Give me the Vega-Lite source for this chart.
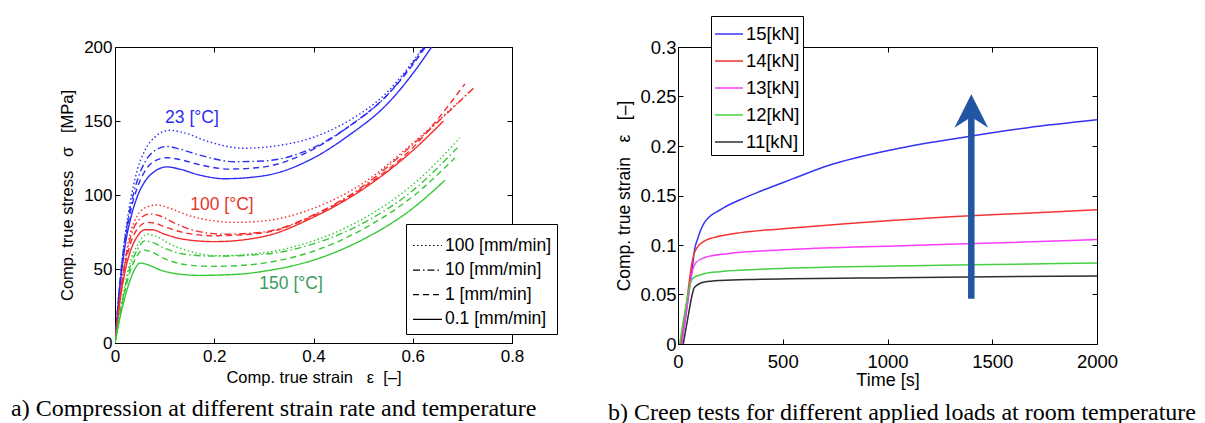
{
  "$schema": "https://vega.github.io/schema/vega-lite/v6.json",
  "padding": {"left": 10, "top": 15, "right": 5, "bottom": 0},
  "bounds": "flush",
  "spacing": 166,
  "background": "white",
  "resolve": {"scale": {"color": "independent", "strokeDash": "independent", "x": "independent", "y": "independent"}, "legend": {"color": "independent", "strokeDash": "independent"}},
  "config": {
    "font": "Liberation Sans",
    "view": {"stroke": "black", "strokeWidth": 1},
    "axis": {"domainColor": "black", "tickColor": "black", "labelColor": "black", "titleColor": "black", "grid": false, "labelFont": "Liberation Sans", "titleFont": "Liberation Sans", "titleFontWeight": "normal", "tickSize": -5, "domainWidth": 1, "tickWidth": 1, "labelFlush": false},
    "legend": {"labelFont": "Liberation Sans", "labelColor": "black"}
  },
  "datasets": {
    "comp": [
      {"T":"23","r":"0.1","e":0,"s":0},{"T":"23","r":"0.1","e":0.01,"s":38},{"T":"23","r":"0.1","e":0.02,"s":65},{"T":"23","r":"0.1","e":0.03,"s":82},{"T":"23","r":"0.1","e":0.045,"s":99},{"T":"23","r":"0.1","e":0.06,"s":109},{"T":"23","r":"0.1","e":0.08,"s":116},{"T":"23","r":"0.1","e":0.105,"s":119},{"T":"23","r":"0.1","e":0.13,"s":117.5},{"T":"23","r":"0.1","e":0.17,"s":113.5},{"T":"23","r":"0.1","e":0.22,"s":111},{"T":"23","r":"0.1","e":0.3,"s":113},{"T":"23","r":"0.1","e":0.4,"s":125},{"T":"23","r":"0.1","e":0.47,"s":140},{"T":"23","r":"0.1","e":0.55,"s":162},{"T":"23","r":"0.1","e":0.6,"s":182},{"T":"23","r":"0.1","e":0.65,"s":206},
      {"T":"23","r":"1","e":0,"s":0},{"T":"23","r":"1","e":0.01,"s":40},{"T":"23","r":"1","e":0.02,"s":68},{"T":"23","r":"1","e":0.03,"s":87},{"T":"23","r":"1","e":0.045,"s":105},{"T":"23","r":"1","e":0.06,"s":116},{"T":"23","r":"1","e":0.08,"s":123},{"T":"23","r":"1","e":0.105,"s":125.2},{"T":"23","r":"1","e":0.13,"s":124},{"T":"23","r":"1","e":0.17,"s":120.5},{"T":"23","r":"1","e":0.23,"s":117.5},{"T":"23","r":"1","e":0.3,"s":119},{"T":"23","r":"1","e":0.4,"s":131},{"T":"23","r":"1","e":0.47,"s":146},{"T":"23","r":"1","e":0.55,"s":168},{"T":"23","r":"1","e":0.6,"s":188},{"T":"23","r":"1","e":0.64,"s":207},
      {"T":"23","r":"10","e":0,"s":0},{"T":"23","r":"10","e":0.01,"s":41},{"T":"23","r":"10","e":0.02,"s":70},{"T":"23","r":"10","e":0.03,"s":90},{"T":"23","r":"10","e":0.045,"s":110},{"T":"23","r":"10","e":0.06,"s":122},{"T":"23","r":"10","e":0.08,"s":130},{"T":"23","r":"10","e":0.105,"s":132.8},{"T":"23","r":"10","e":0.13,"s":131},{"T":"23","r":"10","e":0.17,"s":127},{"T":"23","r":"10","e":0.24,"s":122.5},{"T":"23","r":"10","e":0.3,"s":123},{"T":"23","r":"10","e":0.4,"s":132},{"T":"23","r":"10","e":0.47,"s":146},{"T":"23","r":"10","e":0.55,"s":168},{"T":"23","r":"10","e":0.6,"s":189},{"T":"23","r":"10","e":0.635,"s":206},
      {"T":"23","r":"100","e":0,"s":0},{"T":"23","r":"100","e":0.01,"s":42},{"T":"23","r":"100","e":0.02,"s":72},{"T":"23","r":"100","e":0.03,"s":94},{"T":"23","r":"100","e":0.045,"s":117},{"T":"23","r":"100","e":0.06,"s":130},{"T":"23","r":"100","e":0.08,"s":139},{"T":"23","r":"100","e":0.11,"s":143.7},{"T":"23","r":"100","e":0.14,"s":142},{"T":"23","r":"100","e":0.18,"s":137},{"T":"23","r":"100","e":0.26,"s":131.6},{"T":"23","r":"100","e":0.32,"s":133},{"T":"23","r":"100","e":0.4,"s":139},{"T":"23","r":"100","e":0.47,"s":150},{"T":"23","r":"100","e":0.55,"s":170},{"T":"23","r":"100","e":0.6,"s":190},{"T":"23","r":"100","e":0.635,"s":207},
      {"T":"100","r":"0.1","e":0,"s":0},{"T":"100","r":"0.1","e":0.01,"s":28},{"T":"100","r":"0.1","e":0.02,"s":48},{"T":"100","r":"0.1","e":0.03,"s":61},{"T":"100","r":"0.1","e":0.045,"s":72},{"T":"100","r":"0.1","e":0.06,"s":76.5},{"T":"100","r":"0.1","e":0.075,"s":76.5},{"T":"100","r":"0.1","e":0.1,"s":73.5},{"T":"100","r":"0.1","e":0.14,"s":70},{"T":"100","r":"0.1","e":0.2,"s":68.5},{"T":"100","r":"0.1","e":0.3,"s":72},{"T":"100","r":"0.1","e":0.4,"s":85},{"T":"100","r":"0.1","e":0.5,"s":104},{"T":"100","r":"0.1","e":0.6,"s":130},{"T":"100","r":"0.1","e":0.662,"s":150},
      {"T":"100","r":"1","e":0,"s":0},{"T":"100","r":"1","e":0.01,"s":30},{"T":"100","r":"1","e":0.02,"s":52},{"T":"100","r":"1","e":0.03,"s":66},{"T":"100","r":"1","e":0.045,"s":77},{"T":"100","r":"1","e":0.065,"s":81.5},{"T":"100","r":"1","e":0.08,"s":81},{"T":"100","r":"1","e":0.1,"s":78.5},{"T":"100","r":"1","e":0.14,"s":74.5},{"T":"100","r":"1","e":0.2,"s":72.5},{"T":"100","r":"1","e":0.3,"s":74.5},{"T":"100","r":"1","e":0.4,"s":86},{"T":"100","r":"1","e":0.5,"s":105},{"T":"100","r":"1","e":0.6,"s":132},{"T":"100","r":"1","e":0.705,"s":175},
      {"T":"100","r":"10","e":0,"s":0},{"T":"100","r":"10","e":0.01,"s":31},{"T":"100","r":"10","e":0.02,"s":54},{"T":"100","r":"10","e":0.03,"s":70},{"T":"100","r":"10","e":0.045,"s":82},{"T":"100","r":"10","e":0.07,"s":87.2},{"T":"100","r":"10","e":0.09,"s":86},{"T":"100","r":"10","e":0.12,"s":81},{"T":"100","r":"10","e":0.16,"s":76},{"T":"100","r":"10","e":0.22,"s":73.5},{"T":"100","r":"10","e":0.3,"s":75},{"T":"100","r":"10","e":0.4,"s":86.5},{"T":"100","r":"10","e":0.5,"s":106},{"T":"100","r":"10","e":0.6,"s":134},{"T":"100","r":"10","e":0.725,"s":173},
      {"T":"100","r":"100","e":0,"s":0},{"T":"100","r":"100","e":0.01,"s":32},{"T":"100","r":"100","e":0.02,"s":56},{"T":"100","r":"100","e":0.03,"s":73},{"T":"100","r":"100","e":0.045,"s":86},{"T":"100","r":"100","e":0.065,"s":92},{"T":"100","r":"100","e":0.085,"s":93.3},{"T":"100","r":"100","e":0.11,"s":91},{"T":"100","r":"100","e":0.15,"s":86},{"T":"100","r":"100","e":0.2,"s":82.5},{"T":"100","r":"100","e":0.24,"s":81.5},{"T":"100","r":"100","e":0.3,"s":82.5},{"T":"100","r":"100","e":0.4,"s":91},{"T":"100","r":"100","e":0.5,"s":108},{"T":"100","r":"100","e":0.6,"s":135},{"T":"100","r":"100","e":0.715,"s":170},
      {"T":"150","r":"0.1","e":0,"s":0},{"T":"150","r":"0.1","e":0.01,"s":17},{"T":"150","r":"0.1","e":0.02,"s":31},{"T":"150","r":"0.1","e":0.03,"s":42},{"T":"150","r":"0.1","e":0.04,"s":50},{"T":"150","r":"0.1","e":0.05,"s":54},{"T":"150","r":"0.1","e":0.065,"s":53},{"T":"150","r":"0.1","e":0.09,"s":49.5},{"T":"150","r":"0.1","e":0.12,"s":47},{"T":"150","r":"0.1","e":0.17,"s":45.7},{"T":"150","r":"0.1","e":0.25,"s":46.5},{"T":"150","r":"0.1","e":0.3,"s":48.5},{"T":"150","r":"0.1","e":0.4,"s":56},{"T":"150","r":"0.1","e":0.5,"s":70},{"T":"150","r":"0.1","e":0.6,"s":91},{"T":"150","r":"0.1","e":0.665,"s":110},
      {"T":"150","r":"1","e":0,"s":0},{"T":"150","r":"1","e":0.01,"s":19},{"T":"150","r":"1","e":0.02,"s":35},{"T":"150","r":"1","e":0.03,"s":48},{"T":"150","r":"1","e":0.045,"s":59},{"T":"150","r":"1","e":0.055,"s":63},{"T":"150","r":"1","e":0.07,"s":62},{"T":"150","r":"1","e":0.1,"s":57},{"T":"150","r":"1","e":0.14,"s":53},{"T":"150","r":"1","e":0.19,"s":51.8},{"T":"150","r":"1","e":0.25,"s":52.3},{"T":"150","r":"1","e":0.3,"s":54},{"T":"150","r":"1","e":0.4,"s":62},{"T":"150","r":"1","e":0.5,"s":77},{"T":"150","r":"1","e":0.6,"s":99},{"T":"150","r":"1","e":0.685,"s":125},
      {"T":"150","r":"10","e":0,"s":0},{"T":"150","r":"10","e":0.01,"s":20},{"T":"150","r":"10","e":0.02,"s":37},{"T":"150","r":"10","e":0.03,"s":51},{"T":"150","r":"10","e":0.045,"s":63},{"T":"150","r":"10","e":0.06,"s":69},{"T":"150","r":"10","e":0.075,"s":68},{"T":"150","r":"10","e":0.1,"s":64},{"T":"150","r":"10","e":0.14,"s":60},{"T":"150","r":"10","e":0.2,"s":58.7},{"T":"150","r":"10","e":0.3,"s":60},{"T":"150","r":"10","e":0.4,"s":67},{"T":"150","r":"10","e":0.5,"s":81},{"T":"150","r":"10","e":0.6,"s":103},{"T":"150","r":"10","e":0.69,"s":132},
      {"T":"150","r":"100","e":0,"s":0},{"T":"150","r":"100","e":0.01,"s":21},{"T":"150","r":"100","e":0.02,"s":39},{"T":"150","r":"100","e":0.03,"s":54},{"T":"150","r":"100","e":0.045,"s":66},{"T":"150","r":"100","e":0.065,"s":73.5},{"T":"150","r":"100","e":0.08,"s":72.5},{"T":"150","r":"100","e":0.11,"s":67},{"T":"150","r":"100","e":0.15,"s":62},{"T":"150","r":"100","e":0.21,"s":59},{"T":"150","r":"100","e":0.3,"s":61},{"T":"150","r":"100","e":0.4,"s":69},{"T":"150","r":"100","e":0.5,"s":84},{"T":"150","r":"100","e":0.6,"s":107},{"T":"150","r":"100","e":0.695,"s":138.5}
    ],
    "creep": [
      {"L":"15","t":15,"v":0},{"L":"15","t":35,"v":0.025},{"L":"15","t":55,"v":0.058},{"L":"15","t":70,"v":0.08},{"L":"15","t":78,"v":0.094},{"L":"15","t":95,"v":0.107},{"L":"15","t":126,"v":0.1225},{"L":"15","t":205,"v":0.136},{"L":"15","t":300,"v":0.146},{"L":"15","t":396,"v":0.1545},{"L":"15","t":550,"v":0.167},{"L":"15","t":714,"v":0.18},{"L":"15","t":1033,"v":0.1967},{"L":"15","t":1351,"v":0.2084},{"L":"15","t":1669,"v":0.2185},{"L":"15","t":2000,"v":0.2265},
      {"L":"14","t":12,"v":0},{"L":"14","t":40,"v":0.04},{"L":"14","t":65,"v":0.08},{"L":"14","t":75,"v":0.09},{"L":"14","t":90,"v":0.097},{"L":"14","t":126,"v":0.104},{"L":"14","t":200,"v":0.109},{"L":"14","t":300,"v":0.1125},{"L":"14","t":500,"v":0.1165},{"L":"14","t":800,"v":0.1215},{"L":"14","t":1000,"v":0.1245},{"L":"14","t":1300,"v":0.1285},{"L":"14","t":1600,"v":0.1315},{"L":"14","t":2000,"v":0.1356},
      {"L":"13","t":18,"v":0},{"L":"13","t":45,"v":0.04},{"L":"13","t":70,"v":0.075},{"L":"13","t":85,"v":0.082},{"L":"13","t":126,"v":0.0872},{"L":"13","t":237,"v":0.0912},{"L":"13","t":555,"v":0.0956},{"L":"13","t":1033,"v":0.099},{"L":"13","t":1510,"v":0.102},{"L":"13","t":2000,"v":0.1055},
      {"L":"12","t":8,"v":0},{"L":"12","t":35,"v":0.035},{"L":"12","t":60,"v":0.062},{"L":"12","t":75,"v":0.067},{"L":"12","t":126,"v":0.071},{"L":"12","t":200,"v":0.073},{"L":"12","t":396,"v":0.0754},{"L":"12","t":1033,"v":0.0788},{"L":"12","t":1500,"v":0.0803},{"L":"12","t":2000,"v":0.0817},
      {"L":"11","t":25,"v":0},{"L":"11","t":50,"v":0.03},{"L":"11","t":68,"v":0.05},{"L":"11","t":78,"v":0.057},{"L":"11","t":126,"v":0.0626},{"L":"11","t":200,"v":0.0642},{"L":"11","t":396,"v":0.0653},{"L":"11","t":1033,"v":0.067},{"L":"11","t":1500,"v":0.068},{"L":"11","t":2000,"v":0.0688}
    ]
  },
  "hconcat": [
    {
      "width": 397,
      "height": 296,
      "title": {"text": "a) Compression at different strain rate and temperature", "orient": "bottom", "anchor": "start", "frame": "group", "dx": -104, "offset": 11, "font": "Liberation Serif", "fontSize": 24, "fontWeight": "normal", "color": "black"},
      "layer": [
        {
          "data": {"name": "comp"},
          "mark": {"type": "line", "clip": true, "strokeWidth": 1.4, "interpolate": "monotone"},
          "encoding": {
            "x": {"field": "e", "type": "quantitative", "scale": {"domain": [0, 0.8], "nice": false}, "axis": {"title": "Comp. true strain\u00a0\u00a0\u00a0ε\u00a0\u00a0[–]", "values": [0, 0.2, 0.4, 0.6, 0.8], "format": "~g", "labelFontSize": 17, "titleFontSize": 16.5, "labelPadding": 10, "titlePadding": 5}},
            "y": {"field": "s", "type": "quantitative", "scale": {"domain": [0, 200], "nice": false}, "axis": {"title": "Comp. true stress\u00a0\u00a0\u00a0σ\u00a0\u00a0\u00a0[MPa]", "values": [0, 50, 100, 150, 200], "labelFontSize": 17, "titleFontSize": 16.5, "labelPadding": 8, "titlePadding": 8, "labelOffset": 0}},
            "color": {"field": "T", "type": "nominal", "scale": {"domain": ["23", "100", "150"], "range": ["#2d2df6", "#f42c2c", "#36c836"]}, "legend": null},
            "strokeDash": {"field": "r", "type": "nominal", "scale": {"domain": ["100", "10", "1", "0.1"], "range": [[1.5, 2.5], [7, 3, 1.5, 3], [6, 4], [1, 0]]}, "legend": {"title": null, "orient": "none", "legendX": 291, "legendY": 177, "strokeColor": "black", "fillColor": "white", "padding": 6, "labelFontSize": 17.5, "symbolSize": 841, "symbolStrokeColor": "black", "symbolStrokeWidth": 1.2, "rowPadding": 0.6, "labelOffset": 2, "labelExpr": "datum.label + ' [mm/min]'"}}
          }
        },
        {
          "data": {"values": [{"e": 0.155, "s": 152.2, "t": "23 [°C]"}]},
          "mark": {"type": "text", "fontSize": 17.5, "color": "#2d2df0"},
          "encoding": {
            "x": {"field": "e", "type": "quantitative", "axis": {"orient": "top", "labels": false, "title": null, "domain": false, "values": [0, 0.2, 0.4, 0.6, 0.8]}},
            "y": {"field": "s", "type": "quantitative", "axis": {"orient": "right", "labels": false, "title": null, "domain": false, "values": [0, 50, 100, 150, 200]}},
            "text": {"field": "t"}
          }
        },
        {
          "data": {"values": [{"e": 0.2156, "s": 93.2, "t": "100 [°C]"}]},
          "mark": {"type": "text", "fontSize": 17.5, "color": "#e8372c"},
          "encoding": {
            "x": {"field": "e", "type": "quantitative", "axis": null},
            "y": {"field": "s", "type": "quantitative", "axis": null},
            "text": {"field": "t"}
          }
        },
        {
          "data": {"values": [{"e": 0.3547, "s": 39.9, "t": "150 [°C]"}]},
          "mark": {"type": "text", "fontSize": 17.5, "color": "#3b9a5e"},
          "encoding": {
            "x": {"field": "e", "type": "quantitative", "axis": null},
            "y": {"field": "s", "type": "quantitative", "axis": null},
            "text": {"field": "t"}
          }
        }
      ],
      "resolve": {"axis": {"x": "independent", "y": "independent"}}
    },
    {
      "width": 419,
      "height": 297,
      "title": {"text": "b) Creep tests for different applied loads at room temperature", "orient": "bottom", "anchor": "start", "frame": "group", "dx": -70, "offset": 11, "font": "Liberation Serif", "fontSize": 24, "fontWeight": "normal", "color": "black"},
      "layer": [
        {
          "data": {"name": "creep"},
          "mark": {"type": "line", "clip": true, "strokeWidth": 1.5, "interpolate": "monotone"},
          "encoding": {
            "x": {"field": "t", "type": "quantitative", "scale": {"domain": [0, 2000], "nice": false}, "axis": {"title": "Time [s]", "values": [0, 500, 1000, 1500, 2000], "format": "d", "labelFontSize": 18.5, "titleFontSize": 18, "labelPadding": 13, "titlePadding": 1}},
            "y": {"field": "v", "type": "quantitative", "scale": {"domain": [0, 0.3], "nice": false}, "axis": {"title": "Comp. true strain\u00a0\u00a0\u00a0ε\u00a0\u00a0\u00a0[–]", "values": [0, 0.05, 0.1, 0.15, 0.2, 0.25, 0.3], "format": "~g", "labelFontSize": 18.5, "titleFontSize": 17.5, "labelPadding": 7, "titlePadding": 6, "labelOffset": 0}},
            "color": {"field": "L", "type": "nominal", "scale": {"domain": ["15", "14", "13", "12", "11"], "range": ["#3434f4", "#f53333", "#fb3cfb", "#45d045", "#2e2e2e"]}, "legend": {"title": null, "orient": "none", "legendX": 33, "legendY": -31, "strokeColor": "black", "fillColor": "white", "padding": 3, "labelFontSize": 18.5, "symbolSize": 784, "symbolStrokeWidth": 1.5, "rowPadding": 2, "labelOffset": 2, "labelExpr": "datum.label + '[kN]'"}}
          }
        },
        {
          "data": {"values": [{"t": 1400, "v": 0.0458, "v2": 0.236}]},
          "mark": {"type": "rule", "strokeWidth": 6.5, "color": "#2256a4", "strokeCap": "butt"},
          "encoding": {
            "x": {"field": "t", "type": "quantitative", "axis": {"orient": "top", "labels": false, "title": null, "domain": false, "values": [0, 500, 1000, 1500, 2000]}},
            "y": {"field": "v", "type": "quantitative", "axis": {"orient": "right", "labels": false, "title": null, "domain": false, "values": [0, 0.05, 0.1, 0.15, 0.2, 0.25, 0.3]}},
            "y2": {"field": "v2"}
          }
        },
        {
          "data": {"values": [{"t": 1400, "v": 0.2352}]},
          "mark": {"type": "point", "filled": true, "opacity": 1, "color": "#2256a4", "strokeWidth": 0, "shape": "M0,-1L1,0.98L0,0.35L-1,0.98Z", "size": 1136},
          "encoding": {
            "x": {"field": "t", "type": "quantitative", "axis": null},
            "y": {"field": "v", "type": "quantitative", "axis": null}
          }
        }
      ],
      "resolve": {"axis": {"x": "independent", "y": "independent"}}
    }
  ]
}
